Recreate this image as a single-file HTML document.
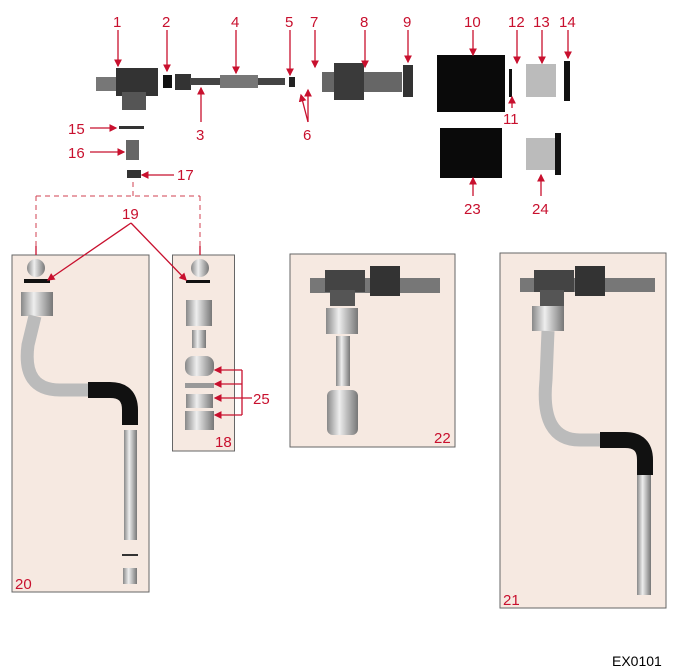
<!DOCTYPE html>
<html><head><style>
html,body{margin:0;padding:0;background:#fff;}
svg{display:block;}
text{font-family:"Liberation Sans",Arial,sans-serif;fill:#c8102e;font-size:15px;}
</style></head><body>
<svg width="678" height="671" viewBox="0 0 678 671" xmlns="http://www.w3.org/2000/svg">
<defs>
<marker id="a" markerWidth="6" markerHeight="6" refX="5" refY="3" orient="auto"><path d="M0,0L6,3L0,6z" fill="#c8102e"/></marker>
<linearGradient id="g" x1="0" x2="1"><stop offset="0" stop-color="#888"/><stop offset="0.4" stop-color="#eee"/><stop offset="1" stop-color="#777"/></linearGradient>
<linearGradient id="gv" x1="0" x2="0" y1="0" y2="1"><stop offset="0" stop-color="#888"/><stop offset="0.4" stop-color="#eee"/><stop offset="1" stop-color="#777"/></linearGradient>
</defs>
<!-- panels -->
<g fill="#f6e9e1" stroke="#666" stroke-width="1">
<rect x="12" y="255" width="137" height="337"/>
<rect x="172.5" y="255" width="62" height="196"/>
<rect x="290" y="254" width="165" height="193"/>
<rect x="500" y="253" width="166" height="355"/>
</g>
<!-- dashed -->
<path d="M133,182V196M36,196H200M36,196V255M200,196V255" stroke="#d04050" stroke-dasharray="5,4" fill="none"/>
<!-- top parts -->
<rect x="96" y="77" width="22" height="14" fill="#777"/>
<rect x="116" y="68" width="42" height="28" fill="#333"/>
<rect x="122" y="92" width="24" height="18" fill="#555"/>
<rect x="163" y="75" width="9" height="13" fill="#111"/>
<rect x="175" y="74" width="16" height="16" fill="#333"/>
<rect x="190" y="78" width="95" height="7" fill="#444"/>
<rect x="220" y="75" width="38" height="13" fill="#777"/>
<rect x="289" y="77" width="6" height="10" fill="#222"/>
<rect x="322" y="72" width="80" height="20" fill="#666"/>
<rect x="334" y="63" width="30" height="37" fill="#3a3a3a"/>
<rect x="403" y="65" width="10" height="32" fill="#333"/>
<rect x="437" y="55" width="68" height="57" fill="#0a0a0a"/>
<rect x="509" y="69" width="3" height="28" fill="#111"/>
<rect x="526" y="64" width="30" height="33" fill="#bbb"/>
<rect x="564" y="61" width="6" height="40" fill="#111"/>
<rect x="440" y="128" width="62" height="50" fill="#0a0a0a"/>
<rect x="526" y="138" width="30" height="32" fill="#bbb"/>
<rect x="555" y="133" width="6" height="42" fill="#111"/>
<rect x="119" y="126" width="25" height="3" fill="#333"/>
<rect x="126" y="140" width="13" height="20" fill="#666"/>
<rect x="127" y="170" width="14" height="8" fill="#333"/>
<!-- panel 20 -->
<circle cx="36" cy="268" r="9" fill="url(#g)"/>
<rect x="24" y="279" width="26" height="4" fill="#111"/>
<rect x="21" y="292" width="32" height="24" fill="url(#g)"/>
<path d="M35,316 L28,345 Q22,390 60,390 H95" stroke="#bbb" stroke-width="13" fill="none"/>
<path d="M88,390 H110 Q130,390 130,410 V425" stroke="#111" stroke-width="16" fill="none"/>
<rect x="124" y="430" width="13" height="110" fill="url(#g)"/>
<rect x="122" y="554" width="16" height="2" fill="#333"/>
<rect x="123" y="568" width="14" height="16" fill="url(#g)"/>
<!-- panel 18 -->
<circle cx="200" cy="268" r="9" fill="url(#g)"/>
<rect x="186" y="280" width="24" height="3" fill="#111"/>
<rect x="186" y="300" width="26" height="26" fill="url(#g)"/>
<rect x="192" y="330" width="14" height="18" fill="url(#g)"/>
<rect x="185" y="356" width="29" height="20" rx="8" fill="url(#g)"/>
<rect x="185" y="383" width="29" height="5" fill="#999"/>
<rect x="186" y="394" width="27" height="14" fill="url(#g)"/>
<rect x="185" y="411" width="29" height="19" fill="url(#g)"/>
<!-- panel 22 -->
<rect x="310" y="278" width="130" height="15" fill="#777"/>
<rect x="325" y="270" width="40" height="22" fill="#444"/>
<rect x="370" y="266" width="30" height="30" fill="#333"/>
<rect x="330" y="290" width="25" height="16" fill="#555"/>
<rect x="326" y="308" width="32" height="26" fill="url(#g)"/>
<rect x="336" y="336" width="14" height="50" fill="url(#g)"/>
<rect x="327" y="390" width="31" height="45" rx="6" fill="url(#g)"/>
<!-- panel 21 -->
<rect x="520" y="278" width="135" height="14" fill="#777"/>
<rect x="534" y="270" width="40" height="22" fill="#444"/>
<rect x="575" y="266" width="30" height="30" fill="#333"/>
<rect x="540" y="290" width="24" height="16" fill="#555"/>
<rect x="532" y="306" width="32" height="25" fill="url(#g)"/>
<path d="M548,331 L546,380 Q540,440 580,440 H610" stroke="#bbb" stroke-width="13" fill="none"/>
<path d="M600,440 H625 Q645,440 645,460 V475" stroke="#111" stroke-width="16" fill="none"/>
<rect x="637" y="475" width="14" height="120" fill="url(#g)"/>
<!-- leader lines -->
<g stroke="#c8102e" stroke-width="1.3" fill="none" marker-end="url(#a)">
<path d="M118,30V66"/><path d="M167,30V71"/><path d="M201,122V88"/><path d="M236,30V73"/>
<path d="M290,30V75"/><path d="M315,30V67"/><path d="M308,122L301,95"/><path d="M308,122V90"/>
<path d="M365,30V67"/><path d="M408,30V62"/><path d="M473,30V55"/><path d="M517,30V63"/>
<path d="M542,30V63"/><path d="M568,30V58"/><path d="M512,108V97"/><path d="M473,196V178"/>
<path d="M541,196V175"/><path d="M90,128H116"/><path d="M90,152H124"/><path d="M174,175H142"/>
<path d="M131,223L48,280"/><path d="M131,223L186,280"/>
<path d="M242,370H215"/><path d="M242,384H215"/><path d="M242,398H215"/><path d="M242,415H215"/>
</g>
<path d="M242,370V415M242,398H252" stroke="#c8102e" stroke-width="1.3"/>
<path d="M36,246V255M200,246V255" stroke="#c8102e" stroke-width="1.3"/>
<!-- labels -->
<text x="113" y="27">1</text><text x="162" y="27">2</text><text x="196" y="140">3</text>
<text x="231" y="27">4</text><text x="285" y="27">5</text><text x="310" y="27">7</text>
<text x="303" y="140">6</text><text x="360" y="27">8</text><text x="403" y="27">9</text>
<text x="464" y="27">10</text><text x="508" y="27">12</text><text x="533" y="27">13</text>
<text x="559" y="27">14</text><text x="503" y="124">11</text><text x="464" y="214">23</text>
<text x="532" y="214">24</text><text x="68" y="134">15</text><text x="68" y="158">16</text>
<text x="177" y="180">17</text><text x="122" y="219">19</text><text x="253" y="404">25</text>
<text x="215" y="447">18</text><text x="15" y="589">20</text><text x="434" y="443">22</text>
<text x="503" y="605">21</text>
<text x="612" y="666" style="fill:#000;font-size:14px">EX0101</text>
</svg>
</body></html>
